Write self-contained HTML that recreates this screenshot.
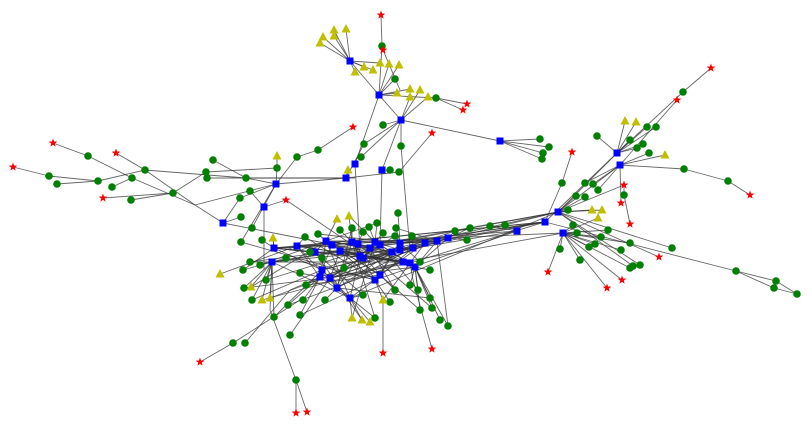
<!DOCTYPE html>
<html><head><meta charset="utf-8"><style>html,body{margin:0;padding:0;background:#fff;width:812px;height:429px;overflow:hidden}</style></head>
<body><svg id="s" width="812" height="429" xmlns="http://www.w3.org/2000/svg"></svg>
<script>
const N=[];function add(t,arr){for(let i=0;i<arr.length;i+=2)N.push([arr[i],arr[i+1],t]);}
add('b',[350,61,379,95,401,120,500,141,355,164,382,170,346,178,223,223,276,184,264,207,
297,246,315,252,326,241,332,245,340,251,352,242,358,244,360,256,363,258,370,248,375,242,380,245,392,252,400,243,400,250,403,262,413,248,410,263,415,267,425,243,437,241,448,238,322,270,330,278,350,298,320,277,272,262,274,248,375,280,380,275,337,288,
558,212,545,222,563,233,517,231,617,153,620,165]);
add('g',[382,46,395,79,436,98,383,125,364,144,361,157,401,146,540,139,549,147,543,153,542,159,390,170,399,172,
88,156,49,176,57,184,98,181,145,170,112,187,132,178,131,200,173,193,213,160,206,172,207,178,246,178,240,198,250,191,252,228,241,242,277,168,297,157,318,150,
241,217,262,240,250,262,243,270,260,265,266,280,244,288,252,300,305,237,318,234,310,252,322,258,286,258,300,273,306,285,303,300,288,305,325,300,344,268,340,230,352,228,363,232,369,227,377,223,383,233,396,228,398,213,395,236,412,236,420,262,430,270,410,285,418,290,430,298,440,320,448,326,432,308,395,290,420,310,363,295,375,318,390,302,290,335,274,317,300,315,233,343,245,343,296,380,
562,183,585,183,593,184,598,190,576,196,585,197,624,195,568,210,573,225,608,230,577,233,601,237,595,244,630,243,621,250,633,266,589,247,560,249,580,260,640,265,672,248,630,268,736,271,776,281,774,288,797,294,
597,136,647,127,656,127,630,140,643,144,637,148,649,153,684,169,728,181,683,92,455,231,470,228,490,226,505,225,467,240]);
add('t',[320,43,323,37,334,30,346,29,334,36,355,72,364,67,373,70,380,63,389,64,399,65,397,93,410,89,410,97,420,90,428,97,348,170,277,156,
337,219,349,216,273,238,220,274,251,287,262,300,270,298,352,318,362,320,370,322,383,300,
625,121,636,122,665,155,592,210,602,210,598,218]);
add('s',[381,15,383,50,467,104,463,110,353,127,432,133,53,143,13,167,116,153,103,198,286,200,711,68,677,100,750,195,572,152,624,185,621,203,630,224,659,257,548,272,607,288,622,280,200,362,383,353,432,349,296,413,307,412]);
const E=[];const used=new Set();const key=(x,y)=>x+','+y;
function ch(...p){for(let i=0;i+3<p.length;i+=2){E.push([p[i],p[i+1],p[i+2],p[i+3]]);used.add(key(p[i],p[i+1]));used.add(key(p[i+2],p[i+3]));}}
ch(53,143,88,156,132,178,195,205,223,223);ch(13,167,49,176,98,181,145,170,246,178);ch(57,184,98,181);
ch(116,153,145,170,195,205,276,184);ch(103,198,173,193,206,172,277,168);ch(131,200,173,193);ch(112,187,132,178);
ch(213,160,246,178,276,184);ch(246,178,355,178);ch(207,178,346,178);ch(223,223,240,198,276,184);ch(223,223,360,250);
ch(276,184,346,178);ch(264,207,286,200,360,250);ch(264,207,264,270);ch(276,184,241,242);ch(250,191,264,207);ch(252,228,276,184);
ch(381,15,382,46,379,95);ch(383,50,400,90);ch(350,61,379,95,401,120,500,141);ch(379,95,436,98,467,104);ch(436,98,463,110);
ch(379,95,355,164,360,250);ch(401,120,382,170,380,245);ch(401,120,364,144,346,178);ch(401,120,361,157);ch(401,120,401,146,410,250);
ch(353,127,318,150,297,157,276,184);ch(432,133,399,172,346,178);ch(390,170,382,170);ch(277,156,277,168,276,184);
ch(711,68,683,92,617,153);ch(677,100,620,165);ch(617,153,558,212);ch(620,165,558,212);ch(617,153,545,222);ch(620,165,684,169,728,181,750,195);
ch(572,152,562,183,545,222);ch(558,212,624,185,624,195,630,224);ch(545,222,736,271,776,281,797,294);ch(736,271,774,288,797,294);
ch(200,362,233,343,300,300);ch(296,413,296,380,270,310,272,262);ch(307,412,296,380);ch(383,353,383,300,375,280);ch(432,349,413,280,410,263);
ch(245,343,290,290,320,277);ch(290,335,330,278);ch(220,274,297,246);ch(558,212,672,248);ch(558,212,640,265);ch(558,212,659,257);ch(558,212,633,266);
const B=N.filter(n=>n[2]=='b');const C=B.filter(n=>n[0]>265&&n[0]<455&&n[1]>230);
for(const n of N){if(n[2]=='b'||used.has(key(n[0],n[1])))continue;let best=null,bd=1e9;for(const b of B){const d=(b[0]-n[0])**2+(b[1]-n[1])**2;if(d<bd){bd=d;best=b;}}E.push([n[0],n[1],best[0],best[1]]);}
let seed=7;const rnd=()=>{seed=(seed*9301+49297)%233280;return seed/233280;};
for(const c of C){for(let k=0;k<3;k++){const o=C[Math.floor(rnd()*C.length)];if(o!==c)E.push([c[0],c[1],o[0],o[1]]);}
 if(rnd()<0.45){const r=[[558,212],[545,222],[517,231],[563,233]][Math.floor(rnd()*4)];E.push([c[0],c[1],r[0],r[1]]);}}
for(const g of N.filter(n=>n[2]!='b'&&n[0]>230&&n[0]<460&&n[1]>215&&n[1]<330)){if(rnd()<0.6){const o=C[Math.floor(rnd()*C.length)];E.push([g[0],g[1],o[0],o[1]]);}}
let h='';
for(const e of E)h+=`<line x1="${e[0]}" y1="${e[1]}" x2="${e[2]}" y2="${e[3]}" stroke="#333" stroke-opacity="0.75" stroke-width="0.9"/>`;
function star(x,y,r){let p=[];for(let i=0;i<10;i++){const a=-Math.PI/2+i*Math.PI/5,rr=i%2?r*0.42:r;p.push((x+rr*Math.cos(a)).toFixed(1)+','+(y+rr*Math.sin(a)).toFixed(1));}return p.join(' ');}
for(const n of N){const[x,y,t]=n;
 if(t=='b')h+=`<rect x="${x-3.5}" y="${y-3.5}" width="7" height="7" fill="#0000ff"/>`;
 else if(t=='g')h+=`<circle cx="${x}" cy="${y}" r="3.8" fill="#008000"/>`;
 else if(t=='t')h+=`<polygon points="${x},${y-5} ${x-4.5},${y+3.5} ${x+4.5},${y+3.5}" fill="#bfbf00"/>`;
 else h+=`<polygon points="${star(x,y,4.5)}" fill="#ff0000"/>`;}
document.getElementById('s').innerHTML=h;
</script></body></html>
